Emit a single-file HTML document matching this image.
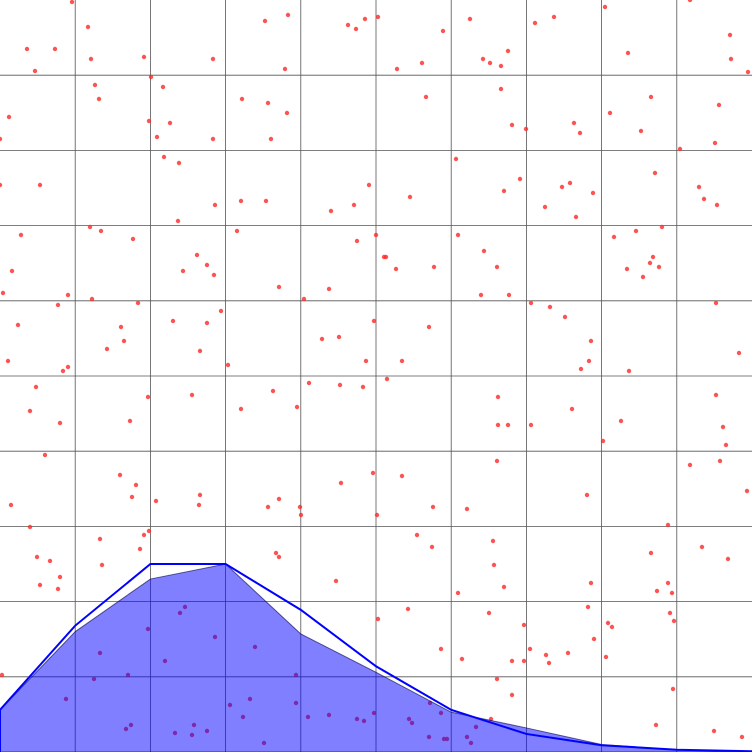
<!DOCTYPE html>
<html>
<head>
<meta charset="utf-8">
<style>
html,body{margin:0;padding:0;background:#fff;}
svg{display:block;}
</style>
</head>
<body>
<svg id="chart" width="752" height="752" viewBox="0 0 752 752" xmlns="http://www.w3.org/2000/svg">
<g id="grid"></g>
<g id="scatter"></g>
<g id="areas"></g>
</svg>
<script>
// Area series (x 0..10, y 0..10 up)
const areaX = [0,1,2,3,4,5,6,7,8,9,10];
const fillY = [0.56,1.6,2.3,2.5,1.57,1.06,0.53,0.32,0.1,0.03,0.01];
const lineY = [0.56,1.68,2.5,2.5,1.89,1.14,0.56,0.24,0.09,0.03,0.01];
const gridTicks = [1,2,3,4,5,6,7,8,9];
// Scatter series (position units, 0..752 horizontal, 0..752 measured from top)
const ptX = [72,88,27,55,35,91,144,213,265,288,348,356,365,378,443,470,535,554,605,690,730,628,731,748,508,483,490,501,422,397,285,151,163,95,99,242,268,287,426,501,651,610,719,9,0,149,170,157,213,271,512,526,574,580,641,715,680,164,179,456,520,0,40,369,410,504,562,570,593,655,699,704,717,215,241,266,178,237,331,354,545,576,90,101,133,21,376,357,386,384,396,434,458,484,497,614,636,662,653,650,659,627,643,12,197,207,183,214,279,329,3,68,58,92,138,221,304,481,509,531,550,565,716,18,121,124,107,173,207,200,374,322,339,429,591,589,581,629,739,8,63,68,228,366,402,387,309,340,363,36,30,148,192,273,297,241,130,60,498,498,508,531,572,621,716,723,726,720,603,45,497,690,747,120,136,132,156,200,199,268,279,300,301,341,373,402,377,433,467,587,11,30,100,144,149,102,140,37,50,60,40,58,276,279,417,432,493,668,702,651,728,494,504,458,336,591,668,672,657,378,408,489,524,588,608,612,670,674,185,180,100,148,165,215,255,296,441,462,497,512,530,524,546,549,568,594,606,673,2,94,128,66,230,250,296,243,131,126,175,194,192,207,264,308,329,357,364,374,409,412,430,441,429,447,444,467,476,471,512,491,656,714,742];
const ptY = [2,27,49,49,71,59,57,59,21,15,25,29,19,17,31,19,23,17,7,0,35,53,59,72,51,59,63,66,63,69,69,77,87,85,99,99,103,113,97,89,97,113,105,117,139,121,123,137,139,139,125,129,123,133,131,143,149,157,163,159,179,185,185,185,197,191,187,183,193,173,187,199,205,205,201,201,221,231,211,205,207,217,227,231,239,235,235,241,257,257,269,267,235,251,267,237,231,227,257,263,267,269,277,271,255,265,271,275,287,289,293,295,305,299,303,311,299,295,295,303,307,317,303,325,327,341,349,321,323,351,321,339,337,327,341,361,369,371,353,361,371,367,365,361,361,379,383,385,387,387,411,397,395,391,407,409,421,423,397,425,425,425,409,421,395,427,445,461,441,455,461,465,491,475,485,497,501,495,505,507,499,507,515,483,473,476,515,507,509,495,505,527,539,535,531,565,549,557,561,577,585,589,553,557,535,547,541,525,547,553,559,565,587,593,581,583,583,593,591,619,609,613,625,607,623,627,613,621,607,613,653,629,661,637,647,675,649,659,679,661,649,661,655,663,653,639,657,689,675,679,675,699,705,699,703,717,725,729,733,725,735,731,743,717,715,719,721,713,719,723,703,713,737,739,739,737,727,743,695,719,725,731,737];

const W = 752, H = 752;
const xScale = v => v / 10 * W;
const yScale = v => H - v / 10 * H;
const pxScale = v => v / 752 * W;
const pyScale = v => v / 752 * H;
const NS = "http://www.w3.org/2000/svg";

const grid = document.getElementById('grid');
gridTicks.forEach(t => {
  const v = document.createElementNS(NS, 'line');
  v.setAttribute('x1', xScale(t)); v.setAttribute('x2', xScale(t));
  v.setAttribute('y1', 0); v.setAttribute('y2', H);
  v.setAttribute('stroke', '#555'); v.setAttribute('stroke-width', '0.8');
  
  
  grid.appendChild(v);
  const h = document.createElementNS(NS, 'line');
  h.setAttribute('y1', yScale(t)); h.setAttribute('y2', yScale(t));
  h.setAttribute('x1', 0); h.setAttribute('x2', W);
  h.setAttribute('stroke', '#555'); h.setAttribute('stroke-width', '0.8');
  
  
  grid.appendChild(h);
});

const sc = document.getElementById('scatter');
ptX.forEach((x, i) => {
  const c = document.createElementNS(NS, 'circle');
  c.setAttribute('cx', pxScale(x));
  c.setAttribute('cy', pyScale(ptY[i]));
  c.setAttribute('r', 2.2);
  c.setAttribute('fill', 'rgba(255,40,40,0.8)');
  
  
  sc.appendChild(c);
});

const areas = document.getElementById('areas');
let d = 'M' + xScale(areaX[0]) + ',' + yScale(0);
areaX.forEach((x, i) => { d += ' L' + xScale(x) + ',' + yScale(fillY[i]); });
d += ' L' + xScale(areaX[areaX.length - 1]) + ',' + yScale(0) + ' Z';
const area = document.createElementNS(NS, 'path');
area.setAttribute('d', d);
area.setAttribute('fill', 'rgba(0,0,255,0.5)');
area.setAttribute('stroke', 'rgba(0,0,80,0.6)');
area.setAttribute('stroke-width', '1');


areas.appendChild(area);

let d2 = 'M' + xScale(areaX[0]) + ',' + yScale(0);
areaX.forEach((x, i) => { d2 += ' L' + xScale(x) + ',' + yScale(lineY[i]); });
const line = document.createElementNS(NS, 'path');
line.setAttribute('d', d2);
line.setAttribute('fill', 'none');
line.setAttribute('stroke', '#0000ff');
line.setAttribute('stroke-width', '2');


areas.appendChild(line);
</script>
</body>
</html>
